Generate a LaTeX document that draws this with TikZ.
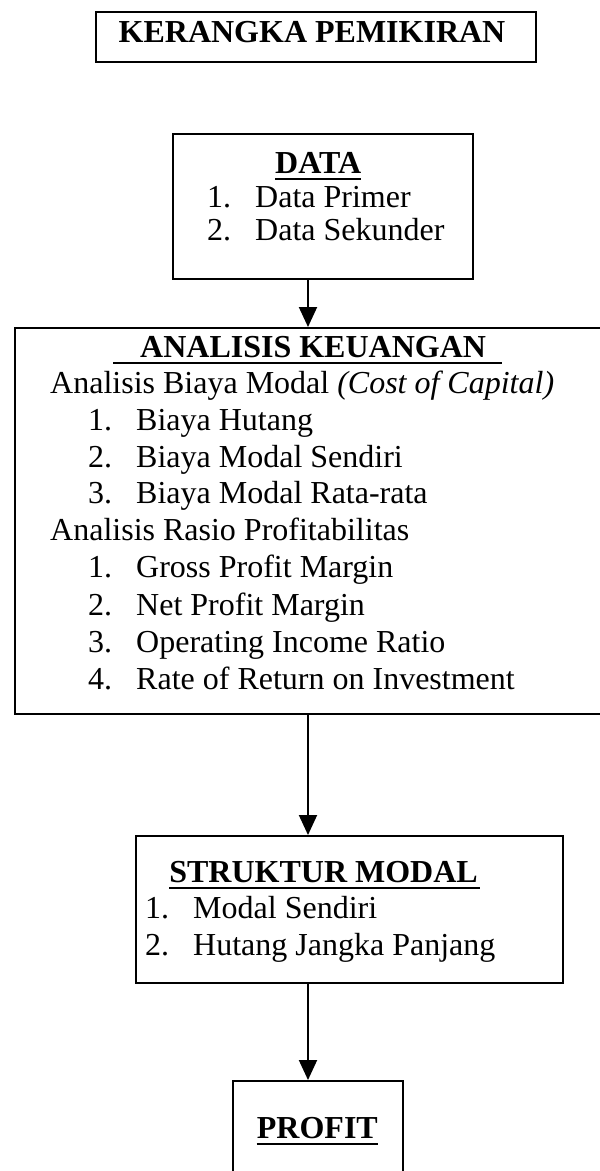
\documentclass[tikz,border=0pt]{standalone}
\usepackage{fontspec}
\setmainfont{Liberation Serif}
\usetikzlibrary{arrows.meta}
\begin{document}
\begin{tikzpicture}[x=1pt,y=-1pt,
  box/.style={draw, line width=2pt, inner sep=0pt, anchor=north west},
  txt/.style={inner sep=0pt, anchor=base west, font=\fontsize{32}{37}\selectfont},
  hd/.style={inner sep=0pt, font=\fontsize{32}{37}\selectfont\bfseries},
  uline/.style={line width=2pt},
  arr/.style={line width=2pt, -{Triangle[width=18pt,length=20pt]}}]
\useasboundingbox (0,0) rectangle (600,1171);
\clip (0,0) rectangle (600,1171);
% title
\node[box, minimum width=440pt, minimum height=50pt] (title) at (95,11) {};
\node[hd, anchor=base] (titletext) at (312,42) {KERANGKA PEMIKIRAN};
% DATA
\node[box, minimum width=300pt, minimum height=145pt] (data) at (172,133) {};
\node[hd, anchor=base west] (datah) at (275,173) {DATA};
\draw[uline] ([yshift=-6pt]datah.base west) -- ([yshift=-6pt]datah.base east);
\node[txt] (d1) at (207,207) {\makebox[48pt][l]{1.}Data Primer};
\node[txt] (d2) at (207,240) {\makebox[48pt][l]{2.}Data Sekunder};
% ANALISIS
\node[box, minimum width=588pt, minimum height=386pt] (ana) at (14,327) {};
\node[hd, anchor=base west] (anah) at (140,357) {ANALISIS KEUANGAN};
\draw[uline] ([xshift=-27pt,yshift=-6pt]anah.base west) -- ([xshift=16pt,yshift=-6pt]anah.base east);
\node[txt] (a0) at (50,393) {Analisis Biaya Modal \textit{(Cost of Capital)}};
\node[txt] (a1) at (88,430) {\makebox[48pt][l]{1.}Biaya Hutang};
\node[txt] (a2) at (88,467) {\makebox[48pt][l]{2.}Biaya Modal Sendiri};
\node[txt] (a3) at (88,503) {\makebox[48pt][l]{3.}Biaya Modal Rata-rata};
\node[txt] (b0) at (50,540) {Analisis Rasio Profitabilitas};
\node[txt] (b1) at (88,577) {\makebox[48pt][l]{1.}Gross Profit Margin};
\node[txt] (b2) at (88,615) {\makebox[48pt][l]{2.}Net Profit Margin};
\node[txt] (b3) at (88,652) {\makebox[48pt][l]{3.}Operating Income Ratio};
\node[txt] (b4) at (88,689) {\makebox[48pt][l]{4.}Rate of Return on Investment};
% STRUKTUR
\node[box, minimum width=427pt, minimum height=147pt] (str) at (135,835) {};
\node[hd, anchor=base east] (strh) at (478,882) {STRUKTUR MODAL};
\draw[uline] ([yshift=-6pt]strh.base west) -- ([xshift=2pt,yshift=-6pt]strh.base east);
\node[txt] (s1) at (145,918) {\makebox[48pt][l]{1.}Modal Sendiri};
\node[txt] (s2) at (145,955) {\makebox[48pt][l]{2.}Hutang Jangka Panjang};
% PROFIT
\node[box, minimum width=170pt, minimum height=140pt] (prof) at (232,1080) {};
\node[hd, anchor=base east] (profh) at (378,1138) {PROFIT};
\draw[uline] ([yshift=-6pt]profh.base west) -- ([yshift=-6pt]profh.base east);
% arrows
\coordinate (ax) at (308,0);
\draw[arr] (data.south -| ax) -- (ana.north -| ax);
\draw[arr] (ana.south -| ax) -- (str.north -| ax);
\draw[arr] (str.south -| ax) -- (prof.north -| ax);
\end{tikzpicture}
\end{document}
